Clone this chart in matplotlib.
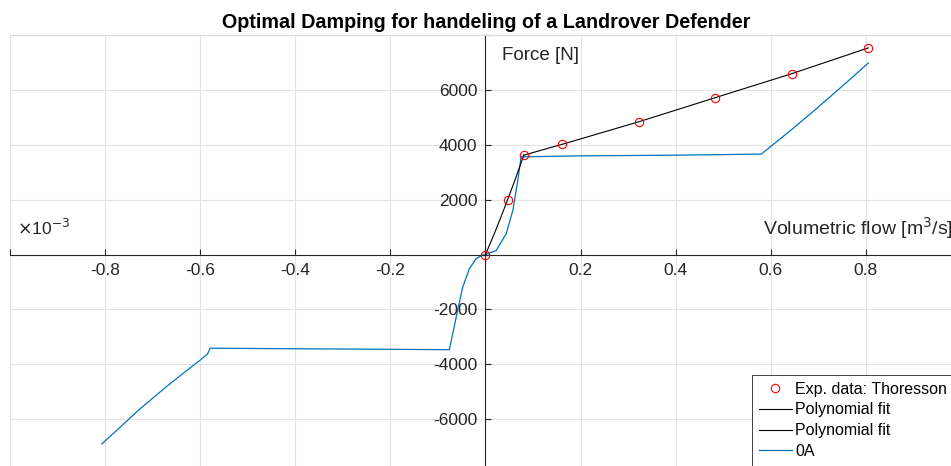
"""
Optimal damping curve for a Landrover Defender (MATLAB-style origin axes)
"""

import matplotlib.pyplot as plt

# Experimental data (Thoresson)
exp_flow = [0, 0.0483, 0.0805, 0.161, 0.322, 0.483, 0.644, 0.805]
exp_force = [0, 2000, 3620, 4025, 4830, 5720, 6590, 7530]

# Polynomial fit, low speed part
fit1_flow = [0, 0.02, 0.04, 0.06, 0.0805]
fit1_force = [0, 820, 1700, 2620, 3620]

# Polynomial fit, high speed part
fit2_flow = [0.0805, 0.161, 0.322, 0.483, 0.644, 0.805]
fit2_force = [3620, 4015, 4835, 5715, 6590, 7530]

# Damper at 0A
flow_0a = [-0.807, -0.785, -0.765, -0.745, -0.728, -0.705, -0.685, -0.665,
           -0.64, -0.616, -0.6, -0.585, -0.579, -0.4, -0.2,
           -0.076, -0.058, -0.048, -0.034, -0.020, -0.006, 0,
           0.0225, 0.0436, 0.0575, 0.068, 0.075, 0.2, 0.4, 0.58,
           0.6, 0.625, 0.647, 0.67, 0.695, 0.717, 0.74, 0.765, 0.785, 0.805]
force_0a = [-6904, -6560, -6240, -5920, -5646, -5310, -5020, -4732,
            -4390, -4061, -3850, -3634, -3415, -3435, -3455,
            -3470, -1987, -1196, -523, -157, -20, 0,
            146, 757, 1610, 2708, 3560, 3595, 3620, 3659,
            3940, 4290, 4598, 4935, 5300, 5635, 5980, 6360, 6670, 6977]

x_ticks = [-1, -0.8, -0.6, -0.4, -0.2, 0, 0.2, 0.4, 0.6, 0.8, 1]
y_ticks = [-8000, -6000, -4000, -2000, 0, 2000, 4000, 6000, 8000]

plt.rcParams['font.family'] = ['Liberation Sans', 'DejaVu Sans']

cinza = '#262626'
azul = '#0072BD'

fig = plt.figure(figsize=(9.51, 4.66), dpi=100)
ax = fig.add_axes([10 / 951, -8 / 466, 1.0, 439 / 466])

ax.plot(exp_flow, exp_force, 'o', color='red', markerfacecolor='none',
        markersize=6, markeredgewidth=0.8, label='Exp. data: Thoresson', zorder=4)
ax.plot(fit1_flow, fit1_force, color='black', lw=0.8, label='Polynomial fit', zorder=3)
ax.plot(fit2_flow, fit2_force, color='black', lw=0.8, label='Polynomial fit', zorder=3)
ax.plot(flow_0a, force_0a, color=azul, lw=0.9, label='0A', zorder=2)

ax.set_xlim(-1, 1)
ax.set_ylim(-8000, 8000)

# eixos passando pela origem
ax.spines['left'].set_position('zero')
ax.spines['bottom'].set_position('zero')
ax.spines['left'].set_color(cinza)
ax.spines['bottom'].set_color(cinza)
ax.spines['right'].set_visible(False)
ax.spines['top'].set_color('#dcdcdc')

ax.set_xticks(x_ticks)
ax.set_yticks(y_ticks)
ax.set_xticklabels(['' if t in (-1, 0, 1) else f'{t:g}' for t in x_ticks])
ax.set_yticklabels(['' if t in (-8000, 0, 8000) else f'{t:g}' for t in y_ticks])
ax.tick_params(direction='in', length=4, width=0.8, colors=cinza,
               labelsize=12.5, pad=6)
ax.grid(True, color='#e3e3e3', lw=0.8)
ax.set_axisbelow(True)

ax.text(0.034, 7250, 'Force [N]', fontsize=13.5, color=cinza, va='center', ha='left')
ax.text(0.583, 950, 'Volumetric flow [m$^3$/s]', fontsize=14, color=cinza,
        va='center', ha='left', clip_on=False)
ax.text(-0.985, 950, r'$\times$10$^{-3}$', fontsize=12.5, color=cinza,
        va='center', ha='left')

fig.text(486 / 951, 1 - 27.5 / 466, 'Optimal Damping for handeling of a Landrover Defender',
         fontsize=14.2, fontweight='bold', ha='center', va='baseline')

leg = ax.legend(loc='upper left', bbox_to_anchor=(752 / 951, 1 - 375 / 466),
                bbox_transform=fig.transFigure, fontsize=11.5, frameon=True,
                fancybox=False, framealpha=1, edgecolor=cinza, borderpad=0.42,
                labelspacing=0.36, handlelength=2.1, handletextpad=0.2,
                borderaxespad=0)
leg.get_frame().set_linewidth(0.6)

plt.savefig('out.png', dpi=100)
plt.close()
